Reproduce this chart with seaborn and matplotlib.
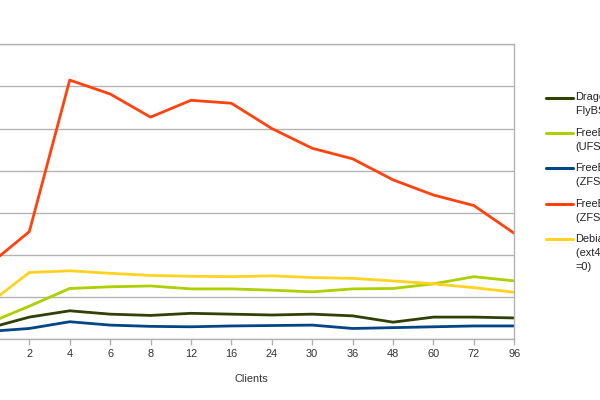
import matplotlib
matplotlib.use("Agg")
import matplotlib.pyplot as plt
import seaborn as sns
import pandas as pd
from matplotlib.lines import Line2D

clients = ["1", "2", "4", "6", "8", "12", "16", "24", "30", "36", "48", "60", "72", "96"]

dragonfly = [0.26, 0.52, 0.67, 0.59, 0.56, 0.61, 0.59, 0.57, 0.59, 0.55, 0.40, 0.52, 0.52, 0.50]
freebsd_ufs = [0.38, 0.78, 1.20, 1.24, 1.26, 1.19, 1.19, 1.16, 1.12, 1.19, 1.20, 1.31, 1.48, 1.38]
freebsd_zfs_a = [0.18, 0.25, 0.41, 0.33, 0.30, 0.29, 0.31, 0.32, 0.33, 0.25, 0.27, 0.29, 0.31, 0.31]
freebsd_zfs_b = [1.76, 2.55, 6.15, 5.82, 5.27, 5.67, 5.60, 5.00, 4.53, 4.28, 3.78, 3.42, 3.17, 2.51]
debian_ext4 = [0.84, 1.58, 1.62, 1.56, 1.51, 1.49, 1.48, 1.50, 1.46, 1.44, 1.38, 1.31, 1.22, 1.11]

series_names = ["DragonFly", "FreeBSD UFS", "FreeBSD ZFS A", "FreeBSD ZFS B", "Debian ext4"]
series_values = [dragonfly, freebsd_ufs, freebsd_zfs_a, freebsd_zfs_b, debian_ext4]
legend_lines = [
    ["Dragon", "FlyBSD (HAMMER)"],
    ["FreeBSD", "(UFS)"],
    ["FreeBSD", "(ZFS, default)"],
    ["FreeBSD", "(ZFS, tuned)"],
    ["Debian", "(ext4, barrier", "=0)"],
]
colors = ["#314004", "#aecf00", "#004586", "#ff420e", "#ffd320"]

rows = []
for name, vals in zip(series_names, series_values):
    for i, v in enumerate(vals):
        rows.append({"series": name, "pos": i, "value": v})
df = pd.DataFrame(rows)

sns.set_style("white")
plt.rcParams["font.family"] = ["Liberation Sans", "DejaVu Sans"]

FS = 7.9
W, H = 600, 400
fig = plt.figure(figsize=(6, 4), dpi=100)
x_first = -11.1
x_last = 514.3
y_bot = 339
y_top = 44.3
ax = fig.add_axes([x_first / W, (H - y_bot) / H, (x_last - x_first) / W, (y_bot - y_top) / H])

sns.lineplot(data=df, x="pos", y="value", hue="series", palette=colors,
             hue_order=series_names, linewidth=2.0, ax=ax, legend=False)

ax.set_xlim(0, len(clients) - 1)
ax.set_ylim(0, 7)
ax.set_yticks(range(0, 8))
ax.set_yticklabels([])
ax.grid(axis="y", color="#b3b3b3", linewidth=1.0)
ax.set_axisbelow(True)
ax.set_xticks(range(len(clients)))
ax.set_xticklabels(clients, fontsize=FS, color="#333333")
ax.tick_params(axis="x", length=4, width=1, color="#b3b3b3", pad=3, bottom=True)
ax.tick_params(axis="y", length=0)
for s in ax.spines.values():
    s.set_color("#b3b3b3")
    s.set_linewidth(1.0)
ax.set_xlabel("Clients", fontsize=FS, color="#333333", labelpad=11)
ax.set_ylabel("")

legend_y = [97.5, 132.9, 168.3, 203.7, 239.3]
for ly, lines, c in zip(legend_y, legend_lines, colors):
    fig.add_artist(Line2D([546 / W, 573 / W], [(H - ly) / H, (H - ly) / H],
                          color=c, linewidth=2.2, transform=fig.transFigure))
    for k, t in enumerate(lines):
        fig.text(575.5 / W, (H - (ly + 14 * k)) / H, t, fontsize=FS,
                 color="#222222", va="center", ha="left")

fig.savefig("out.png", dpi=100)
